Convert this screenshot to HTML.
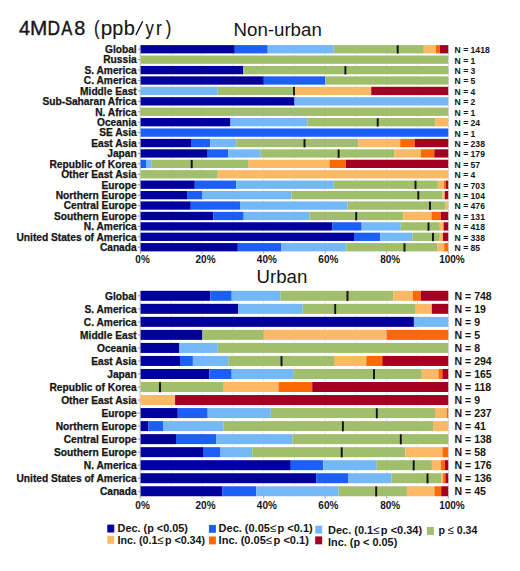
<!DOCTYPE html>
<html><head><meta charset="utf-8">
<style>
html,body{margin:0;padding:0;background:#fff;}
body{width:520px;height:571px;overflow:hidden;position:relative;font-family:"Liberation Sans",sans-serif;}
svg{position:absolute;left:0;top:0;}
text{font-family:"Liberation Sans",sans-serif;fill:#141414;}
.lab{font-weight:bold;stroke:#141414;stroke-width:0.25px;}
.nl{font-weight:bold;}
.xl{font-weight:bold;font-size:10px;}
.lg{font-weight:bold;font-size:11px;}
.le{font-weight:normal;font-size:11.5px;}
.t1{font-size:19px;}
.t2{font-size:18.7px;}
</style></head>
<body>
<svg width="520" height="571" viewBox="0 0 520 571">
<text transform="translate(18.99,34.9) scale(1.018,1)" style="font-size:19.5px;stroke:#141414;stroke-width:0.35px">4</text>
<text transform="translate(30.05,34.9) scale(1.066,1)" style="font-size:19.5px;stroke:#141414;stroke-width:0.35px">M</text>
<text transform="translate(47.42,34.9) scale(0.892,1)" style="font-size:19.5px;stroke:#141414;stroke-width:0.35px">D</text>
<text transform="translate(61.32,34.9) scale(0.850,1)" style="font-size:19.5px;stroke:#141414;stroke-width:0.35px">A</text>
<text transform="translate(74.29,34.9) scale(1.016,1)" style="font-size:19.5px;stroke:#141414;stroke-width:0.35px">8</text>
<text transform="translate(93.92,34.9) scale(0.850,1)" style="font-size:19.5px;stroke:#141414;stroke-width:0.15px">(</text>
<text transform="translate(100.82,34.9) scale(1.061,1)" style="font-size:19.5px;stroke:#141414;stroke-width:0.12px">p</text>
<text transform="translate(112.37,34.9) scale(1.015,1)" style="font-size:19.5px;stroke:#141414;stroke-width:0.12px">p</text>
<text transform="translate(123.86,34.9) scale(1.026,1)" style="font-size:19.5px;stroke:#141414;stroke-width:0.12px">b</text>
<line x1="135.9" y1="35.0" x2="142.7" y2="21.3" stroke="#141414" stroke-width="1.45"/>
<text transform="translate(145.61,34.9) scale(0.850,1)" style="font-size:19.5px;stroke:#141414;stroke-width:0.12px">y</text>
<text transform="translate(155.98,34.9) scale(0.903,1)" style="font-size:19.5px;stroke:#141414;stroke-width:0.15px">r</text>
<text transform="translate(165.75,34.9) scale(0.850,1)" style="font-size:19.5px;stroke:#141414;stroke-width:0.15px">)</text>
<text x="233.5" y="35.9" class="t2">Non-urban</text>
<text x="256.5" y="283.1" class="t2">Urban</text>
<line x1="171.36" y1="45.10" x2="171.36" y2="251.38" stroke="#e4e6ea" stroke-width="0.8"/>
<line x1="202.12" y1="45.10" x2="202.12" y2="251.38" stroke="#e4e6ea" stroke-width="0.8"/>
<line x1="232.88" y1="45.10" x2="232.88" y2="251.38" stroke="#e4e6ea" stroke-width="0.8"/>
<line x1="263.64" y1="45.10" x2="263.64" y2="251.38" stroke="#e4e6ea" stroke-width="0.8"/>
<line x1="294.40" y1="45.10" x2="294.40" y2="251.38" stroke="#e4e6ea" stroke-width="0.8"/>
<line x1="325.16" y1="45.10" x2="325.16" y2="251.38" stroke="#e4e6ea" stroke-width="0.8"/>
<line x1="355.92" y1="45.10" x2="355.92" y2="251.38" stroke="#e4e6ea" stroke-width="0.8"/>
<line x1="386.68" y1="45.10" x2="386.68" y2="251.38" stroke="#e4e6ea" stroke-width="0.8"/>
<line x1="417.44" y1="45.10" x2="417.44" y2="251.38" stroke="#e4e6ea" stroke-width="0.8"/>
<line x1="140.2" y1="45.10" x2="140.2" y2="253.60" stroke="#b4b4b4" stroke-width="0.9"/>
<line x1="448.4" y1="45.10" x2="448.4" y2="253.60" stroke="#cfcfcf" stroke-width="0.8"/>
<rect x="140.60" y="45.10" width="94.20" height="8.30" fill="#00009c"/>
<rect x="234.80" y="45.10" width="32.90" height="8.30" fill="#1b5ff6"/>
<rect x="267.70" y="45.10" width="66.00" height="8.30" fill="#75b8f7"/>
<rect x="333.70" y="45.10" width="90.10" height="8.30" fill="#a1be6c"/>
<rect x="423.80" y="45.10" width="12.10" height="8.30" fill="#fbb966"/>
<rect x="435.90" y="45.10" width="3.90" height="8.30" fill="#fc6904"/>
<rect x="439.80" y="45.10" width="8.40" height="8.30" fill="#a40022"/>
<rect x="396.75" y="45.30" width="1.9" height="8.30" fill="#111"/>
<line x1="137.9" y1="49.25" x2="140.4" y2="49.25" stroke="#8a8a8a" stroke-width="0.9"/>
<text x="136.7" y="53.05" text-anchor="end" class="lab" style="font-size:10.2px">Global</text>
<text x="454.6" y="53.15" class="nl" style="font-size:8.6px">N = 1418</text>
<rect x="140.60" y="55.52" width="307.60" height="8.30" fill="#a1be6c"/>
<line x1="137.9" y1="59.67" x2="140.4" y2="59.67" stroke="#8a8a8a" stroke-width="0.9"/>
<text x="136.7" y="63.47" text-anchor="end" class="lab" style="font-size:10.2px">Russia</text>
<text x="454.6" y="63.57" class="nl" style="font-size:8.6px">N = 1</text>
<rect x="140.60" y="65.94" width="102.70" height="8.30" fill="#00009c"/>
<rect x="243.30" y="65.94" width="204.90" height="8.30" fill="#a1be6c"/>
<rect x="344.45" y="66.14" width="1.9" height="8.30" fill="#111"/>
<line x1="137.9" y1="70.09" x2="140.4" y2="70.09" stroke="#8a8a8a" stroke-width="0.9"/>
<text x="136.7" y="73.89" text-anchor="end" class="lab" style="font-size:10.2px">S. America</text>
<text x="454.6" y="73.99" class="nl" style="font-size:8.6px">N = 3</text>
<rect x="140.60" y="76.36" width="123.20" height="8.30" fill="#00009c"/>
<rect x="263.80" y="76.36" width="61.40" height="8.30" fill="#1b5ff6"/>
<rect x="325.20" y="76.36" width="123.00" height="8.30" fill="#a1be6c"/>
<line x1="137.9" y1="80.51" x2="140.4" y2="80.51" stroke="#8a8a8a" stroke-width="0.9"/>
<text x="136.7" y="84.31" text-anchor="end" class="lab" style="font-size:10.2px">C. America</text>
<text x="454.6" y="84.41" class="nl" style="font-size:8.6px">N = 5</text>
<rect x="140.60" y="86.78" width="77.15" height="8.30" fill="#75b8f7"/>
<rect x="217.75" y="86.78" width="76.75" height="8.30" fill="#a1be6c"/>
<rect x="294.50" y="86.78" width="76.75" height="8.30" fill="#fbb966"/>
<rect x="371.25" y="86.78" width="76.95" height="8.30" fill="#a40022"/>
<rect x="293.05" y="86.98" width="1.9" height="8.30" fill="#111"/>
<line x1="137.9" y1="90.93" x2="140.4" y2="90.93" stroke="#8a8a8a" stroke-width="0.9"/>
<text x="136.7" y="94.73" text-anchor="end" class="lab" style="font-size:10.2px">Middle East</text>
<text x="454.6" y="94.83" class="nl" style="font-size:8.6px">N = 4</text>
<rect x="140.60" y="97.20" width="153.90" height="8.30" fill="#00009c"/>
<rect x="294.50" y="97.20" width="153.70" height="8.30" fill="#75b8f7"/>
<line x1="137.9" y1="101.35" x2="140.4" y2="101.35" stroke="#8a8a8a" stroke-width="0.9"/>
<text x="136.7" y="105.15" text-anchor="end" class="lab" style="font-size:10.2px">Sub-Saharan Africa</text>
<text x="454.6" y="105.25" class="nl" style="font-size:8.6px">N = 2</text>
<rect x="140.60" y="107.62" width="307.60" height="8.30" fill="#a1be6c"/>
<line x1="137.9" y1="111.77" x2="140.4" y2="111.77" stroke="#8a8a8a" stroke-width="0.9"/>
<text x="136.7" y="115.57" text-anchor="end" class="lab" style="font-size:10.2px">N. Africa</text>
<text x="454.6" y="115.67" class="nl" style="font-size:8.6px">N = 1</text>
<rect x="140.60" y="118.04" width="89.90" height="8.30" fill="#00009c"/>
<rect x="230.50" y="118.04" width="76.80" height="8.30" fill="#75b8f7"/>
<rect x="307.30" y="118.04" width="127.90" height="8.30" fill="#a1be6c"/>
<rect x="435.20" y="118.04" width="13.00" height="8.30" fill="#fbb966"/>
<rect x="376.75" y="118.24" width="1.9" height="8.30" fill="#111"/>
<line x1="137.9" y1="122.19" x2="140.4" y2="122.19" stroke="#8a8a8a" stroke-width="0.9"/>
<text x="136.7" y="125.99" text-anchor="end" class="lab" style="font-size:10.2px">Oceania</text>
<text x="454.6" y="126.09" class="nl" style="font-size:8.6px">N = 24</text>
<rect x="140.60" y="128.46" width="307.60" height="8.30" fill="#1b5ff6"/>
<line x1="137.9" y1="132.61" x2="140.4" y2="132.61" stroke="#8a8a8a" stroke-width="0.9"/>
<text x="136.7" y="136.41" text-anchor="end" class="lab" style="font-size:10.2px">SE Asia</text>
<text x="454.6" y="136.51" class="nl" style="font-size:8.6px">N = 1</text>
<rect x="140.60" y="138.88" width="51.10" height="8.30" fill="#00009c"/>
<rect x="191.70" y="138.88" width="18.50" height="8.30" fill="#1b5ff6"/>
<rect x="210.20" y="138.88" width="26.10" height="8.30" fill="#75b8f7"/>
<rect x="236.30" y="138.88" width="122.00" height="8.30" fill="#a1be6c"/>
<rect x="358.30" y="138.88" width="41.90" height="8.30" fill="#fbb966"/>
<rect x="400.20" y="138.88" width="14.40" height="8.30" fill="#fc6904"/>
<rect x="414.60" y="138.88" width="33.60" height="8.30" fill="#a40022"/>
<rect x="303.55" y="139.08" width="1.9" height="8.30" fill="#111"/>
<line x1="137.9" y1="143.03" x2="140.4" y2="143.03" stroke="#8a8a8a" stroke-width="0.9"/>
<text x="136.7" y="146.83" text-anchor="end" class="lab" style="font-size:10.2px">East Asia</text>
<text x="454.6" y="146.93" class="nl" style="font-size:8.6px">N = 238</text>
<rect x="140.60" y="149.30" width="67.10" height="8.30" fill="#00009c"/>
<rect x="207.70" y="149.30" width="20.60" height="8.30" fill="#1b5ff6"/>
<rect x="228.30" y="149.30" width="32.30" height="8.30" fill="#75b8f7"/>
<rect x="260.60" y="149.30" width="134.00" height="8.30" fill="#a1be6c"/>
<rect x="394.60" y="149.30" width="26.10" height="8.30" fill="#fbb966"/>
<rect x="420.70" y="149.30" width="13.60" height="8.30" fill="#fc6904"/>
<rect x="434.30" y="149.30" width="13.90" height="8.30" fill="#a40022"/>
<rect x="337.65" y="149.50" width="1.9" height="8.30" fill="#111"/>
<line x1="137.9" y1="153.45" x2="140.4" y2="153.45" stroke="#8a8a8a" stroke-width="0.9"/>
<text x="136.7" y="157.25" text-anchor="end" class="lab" style="font-size:10.2px">Japan</text>
<text x="454.6" y="157.35" class="nl" style="font-size:8.6px">N = 179</text>
<rect x="140.60" y="159.72" width="5.40" height="8.30" fill="#1b5ff6"/>
<rect x="146.00" y="159.72" width="5.80" height="8.30" fill="#75b8f7"/>
<rect x="151.80" y="159.72" width="96.90" height="8.30" fill="#a1be6c"/>
<rect x="248.70" y="159.72" width="80.80" height="8.30" fill="#fbb966"/>
<rect x="329.50" y="159.72" width="16.20" height="8.30" fill="#fc6904"/>
<rect x="345.70" y="159.72" width="102.50" height="8.30" fill="#a40022"/>
<rect x="190.75" y="159.92" width="1.9" height="8.30" fill="#111"/>
<line x1="137.9" y1="163.87" x2="140.4" y2="163.87" stroke="#8a8a8a" stroke-width="0.9"/>
<text x="136.7" y="167.67" text-anchor="end" class="lab" style="font-size:10.2px">Republic of Korea</text>
<text x="454.6" y="167.77" class="nl" style="font-size:8.6px">N = 57</text>
<rect x="140.60" y="170.14" width="77.15" height="8.30" fill="#a1be6c"/>
<rect x="217.75" y="170.14" width="230.45" height="8.30" fill="#fbb966"/>
<line x1="137.9" y1="174.29" x2="140.4" y2="174.29" stroke="#8a8a8a" stroke-width="0.9"/>
<text x="136.7" y="178.09" text-anchor="end" class="lab" style="font-size:10.2px">Other East Asia</text>
<text x="454.6" y="178.19" class="nl" style="font-size:8.6px">N = 4</text>
<rect x="140.60" y="180.56" width="54.20" height="8.30" fill="#00009c"/>
<rect x="194.80" y="180.56" width="41.50" height="8.30" fill="#1b5ff6"/>
<rect x="236.30" y="180.56" width="97.40" height="8.30" fill="#75b8f7"/>
<rect x="333.70" y="180.56" width="104.20" height="8.30" fill="#a1be6c"/>
<rect x="437.90" y="180.56" width="6.10" height="8.30" fill="#fbb966"/>
<rect x="444.00" y="180.56" width="2.00" height="8.30" fill="#fc6904"/>
<rect x="446.00" y="180.56" width="2.20" height="8.30" fill="#a40022"/>
<rect x="414.55" y="180.76" width="1.9" height="8.30" fill="#111"/>
<line x1="137.9" y1="184.71" x2="140.4" y2="184.71" stroke="#8a8a8a" stroke-width="0.9"/>
<text x="136.7" y="188.51" text-anchor="end" class="lab" style="font-size:10.2px">Europe</text>
<text x="454.6" y="188.61" class="nl" style="font-size:8.6px">N = 703</text>
<rect x="140.60" y="190.98" width="46.50" height="8.30" fill="#00009c"/>
<rect x="187.10" y="190.98" width="15.40" height="8.30" fill="#1b5ff6"/>
<rect x="202.50" y="190.98" width="88.90" height="8.30" fill="#75b8f7"/>
<rect x="291.40" y="190.98" width="150.90" height="8.30" fill="#a1be6c"/>
<rect x="442.30" y="190.98" width="2.50" height="8.30" fill="#fbb966"/>
<rect x="444.80" y="190.98" width="3.40" height="8.30" fill="#a40022"/>
<rect x="417.35" y="191.18" width="1.9" height="8.30" fill="#111"/>
<line x1="137.9" y1="195.13" x2="140.4" y2="195.13" stroke="#8a8a8a" stroke-width="0.9"/>
<text x="136.7" y="198.93" text-anchor="end" class="lab" style="font-size:10.2px">Northern Europe</text>
<text x="454.6" y="199.03" class="nl" style="font-size:8.6px">N = 104</text>
<rect x="140.60" y="201.40" width="50.20" height="8.30" fill="#00009c"/>
<rect x="190.80" y="201.40" width="49.20" height="8.30" fill="#1b5ff6"/>
<rect x="240.00" y="201.40" width="107.50" height="8.30" fill="#75b8f7"/>
<rect x="347.50" y="201.40" width="98.10" height="8.30" fill="#a1be6c"/>
<rect x="445.60" y="201.40" width="2.60" height="8.30" fill="#fbb966"/>
<rect x="429.05" y="201.60" width="1.9" height="8.30" fill="#111"/>
<line x1="137.9" y1="205.55" x2="140.4" y2="205.55" stroke="#8a8a8a" stroke-width="0.9"/>
<text x="136.7" y="209.35" text-anchor="end" class="lab" style="font-size:10.2px">Central Europe</text>
<text x="454.6" y="209.45" class="nl" style="font-size:8.6px">N = 476</text>
<rect x="140.60" y="211.82" width="72.60" height="8.30" fill="#00009c"/>
<rect x="213.20" y="211.82" width="30.50" height="8.30" fill="#1b5ff6"/>
<rect x="243.70" y="211.82" width="65.70" height="8.30" fill="#75b8f7"/>
<rect x="309.40" y="211.82" width="93.80" height="8.30" fill="#a1be6c"/>
<rect x="403.20" y="211.82" width="28.30" height="8.30" fill="#fbb966"/>
<rect x="431.50" y="211.82" width="9.30" height="8.30" fill="#fc6904"/>
<rect x="440.80" y="211.82" width="7.40" height="8.30" fill="#a40022"/>
<rect x="355.25" y="212.02" width="1.9" height="8.30" fill="#111"/>
<line x1="137.9" y1="215.97" x2="140.4" y2="215.97" stroke="#8a8a8a" stroke-width="0.9"/>
<text x="136.7" y="219.77" text-anchor="end" class="lab" style="font-size:10.2px">Southern Europe</text>
<text x="454.6" y="219.87" class="nl" style="font-size:8.6px">N = 131</text>
<rect x="140.60" y="222.24" width="191.90" height="8.30" fill="#00009c"/>
<rect x="332.50" y="222.24" width="29.20" height="8.30" fill="#1b5ff6"/>
<rect x="361.70" y="222.24" width="39.10" height="8.30" fill="#75b8f7"/>
<rect x="400.80" y="222.24" width="39.00" height="8.30" fill="#a1be6c"/>
<rect x="439.80" y="222.24" width="3.80" height="8.30" fill="#fbb966"/>
<rect x="443.60" y="222.24" width="4.60" height="8.30" fill="#a40022"/>
<rect x="427.55" y="222.44" width="1.9" height="8.30" fill="#111"/>
<line x1="137.9" y1="226.39" x2="140.4" y2="226.39" stroke="#8a8a8a" stroke-width="0.9"/>
<text x="136.7" y="230.19" text-anchor="end" class="lab" style="font-size:10.2px">N. America</text>
<text x="454.6" y="230.29" class="nl" style="font-size:8.6px">N = 418</text>
<rect x="140.60" y="232.66" width="213.40" height="8.30" fill="#00009c"/>
<rect x="354.00" y="232.66" width="26.20" height="8.30" fill="#1b5ff6"/>
<rect x="380.20" y="232.66" width="32.30" height="8.30" fill="#75b8f7"/>
<rect x="412.50" y="232.66" width="27.30" height="8.30" fill="#a1be6c"/>
<rect x="439.80" y="232.66" width="3.20" height="8.30" fill="#fbb966"/>
<rect x="443.00" y="232.66" width="5.20" height="8.30" fill="#a40022"/>
<rect x="432.05" y="232.86" width="1.9" height="8.30" fill="#111"/>
<line x1="137.9" y1="236.81" x2="140.4" y2="236.81" stroke="#8a8a8a" stroke-width="0.9"/>
<text x="136.7" y="240.61" text-anchor="end" class="lab" style="font-size:10.2px">United States of America</text>
<text x="454.6" y="240.71" class="nl" style="font-size:8.6px">N = 338</text>
<rect x="140.60" y="243.08" width="97.20" height="8.30" fill="#00009c"/>
<rect x="237.80" y="243.08" width="43.70" height="8.30" fill="#1b5ff6"/>
<rect x="281.50" y="243.08" width="64.80" height="8.30" fill="#75b8f7"/>
<rect x="346.30" y="243.08" width="90.70" height="8.30" fill="#a1be6c"/>
<rect x="437.00" y="243.08" width="7.20" height="8.30" fill="#fbb966"/>
<rect x="444.20" y="243.08" width="4.00" height="8.30" fill="#fc6904"/>
<rect x="403.55" y="243.28" width="1.9" height="8.30" fill="#111"/>
<line x1="137.9" y1="247.23" x2="140.4" y2="247.23" stroke="#8a8a8a" stroke-width="0.9"/>
<text x="136.7" y="251.03" text-anchor="end" class="lab" style="font-size:10.2px">Canada</text>
<text x="454.6" y="251.13" class="nl" style="font-size:8.6px">N = 85</text>
<line x1="140.60" y1="251.40" x2="140.60" y2="253.60" stroke="#9a9a9a" stroke-width="0.9"/>
<text x="135.35" y="263.00" class="xl">0%</text>
<line x1="202.12" y1="251.40" x2="202.12" y2="253.60" stroke="#9a9a9a" stroke-width="0.9"/>
<text x="195.55" y="263.00" class="xl">20%</text>
<line x1="263.64" y1="251.40" x2="263.64" y2="253.60" stroke="#9a9a9a" stroke-width="0.9"/>
<text x="256.85" y="263.00" class="xl">40%</text>
<line x1="325.16" y1="251.40" x2="325.16" y2="253.60" stroke="#9a9a9a" stroke-width="0.9"/>
<text x="318.35" y="263.00" class="xl">60%</text>
<line x1="386.68" y1="251.40" x2="386.68" y2="253.60" stroke="#9a9a9a" stroke-width="0.9"/>
<text x="380.15" y="263.00" class="xl">80%</text>
<line x1="448.20" y1="251.40" x2="448.20" y2="253.60" stroke="#9a9a9a" stroke-width="0.9"/>
<text x="439.15" y="263.00" class="xl">100%</text>
<line x1="171.36" y1="290.80" x2="171.36" y2="496.25" stroke="#e4e6ea" stroke-width="0.8"/>
<line x1="202.12" y1="290.80" x2="202.12" y2="496.25" stroke="#e4e6ea" stroke-width="0.8"/>
<line x1="232.88" y1="290.80" x2="232.88" y2="496.25" stroke="#e4e6ea" stroke-width="0.8"/>
<line x1="263.64" y1="290.80" x2="263.64" y2="496.25" stroke="#e4e6ea" stroke-width="0.8"/>
<line x1="294.40" y1="290.80" x2="294.40" y2="496.25" stroke="#e4e6ea" stroke-width="0.8"/>
<line x1="325.16" y1="290.80" x2="325.16" y2="496.25" stroke="#e4e6ea" stroke-width="0.8"/>
<line x1="355.92" y1="290.80" x2="355.92" y2="496.25" stroke="#e4e6ea" stroke-width="0.8"/>
<line x1="386.68" y1="290.80" x2="386.68" y2="496.25" stroke="#e4e6ea" stroke-width="0.8"/>
<line x1="417.44" y1="290.80" x2="417.44" y2="496.25" stroke="#e4e6ea" stroke-width="0.8"/>
<line x1="140.2" y1="290.80" x2="140.2" y2="498.40" stroke="#b4b4b4" stroke-width="0.9"/>
<line x1="448.4" y1="290.80" x2="448.4" y2="498.40" stroke="#cfcfcf" stroke-width="0.8"/>
<rect x="140.60" y="290.80" width="69.60" height="10.00" fill="#00009c"/>
<rect x="210.20" y="290.80" width="21.50" height="10.00" fill="#1b5ff6"/>
<rect x="231.70" y="290.80" width="48.90" height="10.00" fill="#75b8f7"/>
<rect x="280.60" y="290.80" width="112.50" height="10.00" fill="#a1be6c"/>
<rect x="393.10" y="290.80" width="19.90" height="10.00" fill="#fbb966"/>
<rect x="413.00" y="290.80" width="7.80" height="10.00" fill="#fc6904"/>
<rect x="420.80" y="290.80" width="27.40" height="10.00" fill="#a40022"/>
<rect x="346.55" y="291.00" width="1.9" height="10.00" fill="#111"/>
<line x1="137.9" y1="295.80" x2="140.4" y2="295.80" stroke="#8a8a8a" stroke-width="0.9"/>
<text x="136.7" y="299.50" text-anchor="end" class="lab" style="font-size:10.2px">Global</text>
<text x="454.6" y="299.50" class="nl" style="font-size:10.5px">N = 748</text>
<rect x="140.60" y="303.83" width="97.40" height="10.00" fill="#00009c"/>
<rect x="238.00" y="303.83" width="64.60" height="10.00" fill="#75b8f7"/>
<rect x="302.60" y="303.83" width="113.10" height="10.00" fill="#a1be6c"/>
<rect x="415.70" y="303.83" width="16.10" height="10.00" fill="#fbb966"/>
<rect x="431.80" y="303.83" width="16.40" height="10.00" fill="#a40022"/>
<rect x="334.25" y="304.03" width="1.9" height="10.00" fill="#111"/>
<line x1="137.9" y1="308.83" x2="140.4" y2="308.83" stroke="#8a8a8a" stroke-width="0.9"/>
<text x="136.7" y="312.53" text-anchor="end" class="lab" style="font-size:10.2px">S. America</text>
<text x="454.6" y="312.53" class="nl" style="font-size:10.5px">N = 19</text>
<rect x="140.60" y="316.86" width="273.30" height="10.00" fill="#00009c"/>
<rect x="413.90" y="316.86" width="34.30" height="10.00" fill="#75b8f7"/>
<line x1="137.9" y1="321.86" x2="140.4" y2="321.86" stroke="#8a8a8a" stroke-width="0.9"/>
<text x="136.7" y="325.56" text-anchor="end" class="lab" style="font-size:10.2px">C. America</text>
<text x="454.6" y="325.56" class="nl" style="font-size:10.5px">N = 9</text>
<rect x="140.60" y="329.89" width="61.80" height="10.00" fill="#00009c"/>
<rect x="202.40" y="329.89" width="61.40" height="10.00" fill="#a1be6c"/>
<rect x="263.80" y="329.89" width="122.80" height="10.00" fill="#fbb966"/>
<rect x="386.60" y="329.89" width="61.60" height="10.00" fill="#fc6904"/>
<line x1="137.9" y1="334.89" x2="140.4" y2="334.89" stroke="#8a8a8a" stroke-width="0.9"/>
<text x="136.7" y="338.59" text-anchor="end" class="lab" style="font-size:10.2px">Middle East</text>
<text x="454.6" y="338.59" class="nl" style="font-size:10.5px">N = 5</text>
<rect x="140.60" y="342.92" width="38.80" height="10.00" fill="#00009c"/>
<rect x="179.40" y="342.92" width="38.35" height="10.00" fill="#75b8f7"/>
<rect x="217.75" y="342.92" width="230.45" height="10.00" fill="#a1be6c"/>
<line x1="137.9" y1="347.92" x2="140.4" y2="347.92" stroke="#8a8a8a" stroke-width="0.9"/>
<text x="136.7" y="351.62" text-anchor="end" class="lab" style="font-size:10.2px">Oceania</text>
<text x="454.6" y="351.62" class="nl" style="font-size:10.5px">N = 8</text>
<rect x="140.60" y="355.95" width="39.40" height="10.00" fill="#00009c"/>
<rect x="180.00" y="355.95" width="12.90" height="10.00" fill="#1b5ff6"/>
<rect x="192.90" y="355.95" width="35.40" height="10.00" fill="#75b8f7"/>
<rect x="228.30" y="355.95" width="105.70" height="10.00" fill="#a1be6c"/>
<rect x="334.00" y="355.95" width="32.30" height="10.00" fill="#fbb966"/>
<rect x="366.30" y="355.95" width="16.00" height="10.00" fill="#fc6904"/>
<rect x="382.30" y="355.95" width="65.90" height="10.00" fill="#a40022"/>
<rect x="280.55" y="356.15" width="1.9" height="10.00" fill="#111"/>
<line x1="137.9" y1="360.95" x2="140.4" y2="360.95" stroke="#8a8a8a" stroke-width="0.9"/>
<text x="136.7" y="364.65" text-anchor="end" class="lab" style="font-size:10.2px">East Asia</text>
<text x="454.6" y="364.65" class="nl" style="font-size:10.5px">N = 294</text>
<rect x="140.60" y="368.98" width="68.60" height="10.00" fill="#00009c"/>
<rect x="209.20" y="368.98" width="22.50" height="10.00" fill="#1b5ff6"/>
<rect x="231.70" y="368.98" width="61.40" height="10.00" fill="#75b8f7"/>
<rect x="293.10" y="368.98" width="128.70" height="10.00" fill="#a1be6c"/>
<rect x="421.80" y="368.98" width="16.70" height="10.00" fill="#fbb966"/>
<rect x="438.50" y="368.98" width="3.90" height="10.00" fill="#fc6904"/>
<rect x="442.40" y="368.98" width="5.80" height="10.00" fill="#a40022"/>
<rect x="373.05" y="369.18" width="1.9" height="10.00" fill="#111"/>
<line x1="137.9" y1="373.98" x2="140.4" y2="373.98" stroke="#8a8a8a" stroke-width="0.9"/>
<text x="136.7" y="377.68" text-anchor="end" class="lab" style="font-size:10.2px">Japan</text>
<text x="454.6" y="377.68" class="nl" style="font-size:10.5px">N = 165</text>
<rect x="140.60" y="382.01" width="83.10" height="10.00" fill="#a1be6c"/>
<rect x="223.70" y="382.01" width="54.80" height="10.00" fill="#fbb966"/>
<rect x="278.50" y="382.01" width="33.70" height="10.00" fill="#fc6904"/>
<rect x="312.20" y="382.01" width="136.00" height="10.00" fill="#a40022"/>
<rect x="159.05" y="382.21" width="1.9" height="10.00" fill="#111"/>
<line x1="137.9" y1="387.01" x2="140.4" y2="387.01" stroke="#8a8a8a" stroke-width="0.9"/>
<text x="136.7" y="390.71" text-anchor="end" class="lab" style="font-size:10.2px">Republic of Korea</text>
<text x="454.6" y="390.71" class="nl" style="font-size:10.5px">N = 118</text>
<rect x="140.60" y="395.04" width="34.50" height="10.00" fill="#fbb966"/>
<rect x="175.10" y="395.04" width="273.10" height="10.00" fill="#a40022"/>
<line x1="137.9" y1="400.04" x2="140.4" y2="400.04" stroke="#8a8a8a" stroke-width="0.9"/>
<text x="136.7" y="403.74" text-anchor="end" class="lab" style="font-size:10.2px">Other East Asia</text>
<text x="454.6" y="403.74" class="nl" style="font-size:10.5px">N = 9</text>
<rect x="140.60" y="408.07" width="37.20" height="10.00" fill="#00009c"/>
<rect x="177.80" y="408.07" width="29.90" height="10.00" fill="#1b5ff6"/>
<rect x="207.70" y="408.07" width="63.10" height="10.00" fill="#75b8f7"/>
<rect x="270.80" y="408.07" width="164.20" height="10.00" fill="#a1be6c"/>
<rect x="435.00" y="408.07" width="11.60" height="10.00" fill="#fbb966"/>
<rect x="446.60" y="408.07" width="1.60" height="10.00" fill="#fc6904"/>
<rect x="375.85" y="408.27" width="1.9" height="10.00" fill="#111"/>
<line x1="137.9" y1="413.07" x2="140.4" y2="413.07" stroke="#8a8a8a" stroke-width="0.9"/>
<text x="136.7" y="416.77" text-anchor="end" class="lab" style="font-size:10.2px">Europe</text>
<text x="454.6" y="416.77" class="nl" style="font-size:10.5px">N = 237</text>
<rect x="140.60" y="421.10" width="7.90" height="10.00" fill="#00009c"/>
<rect x="148.50" y="421.10" width="15.00" height="10.00" fill="#1b5ff6"/>
<rect x="163.50" y="421.10" width="59.90" height="10.00" fill="#75b8f7"/>
<rect x="223.40" y="421.10" width="209.60" height="10.00" fill="#a1be6c"/>
<rect x="433.00" y="421.10" width="15.20" height="10.00" fill="#fbb966"/>
<rect x="341.95" y="421.30" width="1.9" height="10.00" fill="#111"/>
<line x1="137.9" y1="426.10" x2="140.4" y2="426.10" stroke="#8a8a8a" stroke-width="0.9"/>
<text x="136.7" y="429.80" text-anchor="end" class="lab" style="font-size:10.2px">Northern Europe</text>
<text x="454.6" y="429.80" class="nl" style="font-size:10.5px">N = 41</text>
<rect x="140.60" y="434.13" width="35.40" height="10.00" fill="#00009c"/>
<rect x="176.00" y="434.13" width="40.00" height="10.00" fill="#1b5ff6"/>
<rect x="216.00" y="434.13" width="76.30" height="10.00" fill="#75b8f7"/>
<rect x="292.30" y="434.13" width="155.90" height="10.00" fill="#a1be6c"/>
<rect x="399.85" y="434.33" width="1.9" height="10.00" fill="#111"/>
<line x1="137.9" y1="439.13" x2="140.4" y2="439.13" stroke="#8a8a8a" stroke-width="0.9"/>
<text x="136.7" y="442.83" text-anchor="end" class="lab" style="font-size:10.2px">Central Europe</text>
<text x="454.6" y="442.83" class="nl" style="font-size:10.5px">N = 138</text>
<rect x="140.60" y="447.16" width="63.10" height="10.00" fill="#00009c"/>
<rect x="203.70" y="447.16" width="16.30" height="10.00" fill="#1b5ff6"/>
<rect x="220.00" y="447.16" width="32.30" height="10.00" fill="#75b8f7"/>
<rect x="252.30" y="447.16" width="153.10" height="10.00" fill="#a1be6c"/>
<rect x="405.40" y="447.16" width="37.10" height="10.00" fill="#fbb966"/>
<rect x="442.50" y="447.16" width="5.70" height="10.00" fill="#fc6904"/>
<rect x="340.75" y="447.36" width="1.9" height="10.00" fill="#111"/>
<line x1="137.9" y1="452.16" x2="140.4" y2="452.16" stroke="#8a8a8a" stroke-width="0.9"/>
<text x="136.7" y="455.86" text-anchor="end" class="lab" style="font-size:10.2px">Southern Europe</text>
<text x="454.6" y="455.86" class="nl" style="font-size:10.5px">N = 58</text>
<rect x="140.60" y="460.19" width="150.20" height="10.00" fill="#00009c"/>
<rect x="290.80" y="460.19" width="32.40" height="10.00" fill="#1b5ff6"/>
<rect x="323.20" y="460.19" width="53.60" height="10.00" fill="#75b8f7"/>
<rect x="376.80" y="460.19" width="55.10" height="10.00" fill="#a1be6c"/>
<rect x="431.90" y="460.19" width="9.10" height="10.00" fill="#fbb966"/>
<rect x="441.00" y="460.19" width="3.80" height="10.00" fill="#fc6904"/>
<rect x="444.80" y="460.19" width="3.40" height="10.00" fill="#a40022"/>
<rect x="412.75" y="460.39" width="1.9" height="10.00" fill="#111"/>
<line x1="137.9" y1="465.19" x2="140.4" y2="465.19" stroke="#8a8a8a" stroke-width="0.9"/>
<text x="136.7" y="468.89" text-anchor="end" class="lab" style="font-size:10.2px">N. America</text>
<text x="454.6" y="468.89" class="nl" style="font-size:10.5px">N = 176</text>
<rect x="140.60" y="473.22" width="175.60" height="10.00" fill="#00009c"/>
<rect x="316.20" y="473.22" width="32.30" height="10.00" fill="#1b5ff6"/>
<rect x="348.50" y="473.22" width="43.00" height="10.00" fill="#75b8f7"/>
<rect x="391.50" y="473.22" width="50.00" height="10.00" fill="#a1be6c"/>
<rect x="441.50" y="473.22" width="1.60" height="10.00" fill="#fbb966"/>
<rect x="443.10" y="473.22" width="2.30" height="10.00" fill="#fc6904"/>
<rect x="445.40" y="473.22" width="2.80" height="10.00" fill="#a40022"/>
<rect x="426.55" y="473.42" width="1.9" height="10.00" fill="#111"/>
<line x1="137.9" y1="478.22" x2="140.4" y2="478.22" stroke="#8a8a8a" stroke-width="0.9"/>
<text x="136.7" y="481.92" text-anchor="end" class="lab" style="font-size:10.2px">United States of America</text>
<text x="454.6" y="481.92" class="nl" style="font-size:10.5px">N = 136</text>
<rect x="140.60" y="486.25" width="81.90" height="10.00" fill="#00009c"/>
<rect x="222.50" y="486.25" width="33.80" height="10.00" fill="#1b5ff6"/>
<rect x="256.30" y="486.25" width="82.30" height="10.00" fill="#75b8f7"/>
<rect x="338.60" y="486.25" width="68.30" height="10.00" fill="#a1be6c"/>
<rect x="406.90" y="486.25" width="27.50" height="10.00" fill="#fbb966"/>
<rect x="434.40" y="486.25" width="6.80" height="10.00" fill="#fc6904"/>
<rect x="441.20" y="486.25" width="7.00" height="10.00" fill="#a40022"/>
<rect x="375.25" y="486.45" width="1.9" height="10.00" fill="#111"/>
<line x1="137.9" y1="491.25" x2="140.4" y2="491.25" stroke="#8a8a8a" stroke-width="0.9"/>
<text x="136.7" y="494.95" text-anchor="end" class="lab" style="font-size:10.2px">Canada</text>
<text x="454.6" y="494.95" class="nl" style="font-size:10.5px">N = 45</text>
<line x1="140.60" y1="496.20" x2="140.60" y2="498.40" stroke="#9a9a9a" stroke-width="0.9"/>
<text x="135.35" y="508.50" class="xl">0%</text>
<line x1="202.12" y1="496.20" x2="202.12" y2="498.40" stroke="#9a9a9a" stroke-width="0.9"/>
<text x="195.55" y="508.50" class="xl">20%</text>
<line x1="263.64" y1="496.20" x2="263.64" y2="498.40" stroke="#9a9a9a" stroke-width="0.9"/>
<text x="256.85" y="508.50" class="xl">40%</text>
<line x1="325.16" y1="496.20" x2="325.16" y2="498.40" stroke="#9a9a9a" stroke-width="0.9"/>
<text x="318.35" y="508.50" class="xl">60%</text>
<line x1="386.68" y1="496.20" x2="386.68" y2="498.40" stroke="#9a9a9a" stroke-width="0.9"/>
<text x="380.15" y="508.50" class="xl">80%</text>
<line x1="448.20" y1="496.20" x2="448.20" y2="498.40" stroke="#9a9a9a" stroke-width="0.9"/>
<text x="439.15" y="508.50" class="xl">100%</text>
<rect x="107.3" y="524.6" width="7.0" height="7.9" fill="#00009c"/>
<text x="117.6" y="531.8" class="lg" textLength="70.3" lengthAdjust="spacingAndGlyphs">Dec. (p &lt;0.05)</text>
<rect x="208.9" y="524.9" width="7.0" height="7.9" fill="#1b5ff6"/>
<text x="218.6" y="532.0" class="lg" textLength="94.1" lengthAdjust="spacingAndGlyphs">Dec. (0.05<tspan class="le">≤</tspan><tspan dx="1.4">p</tspan> &lt;0.1)</text>
<rect x="315.2" y="525.7" width="7.0" height="7.9" fill="#75b8f7"/>
<text x="328.0" y="534.0" class="lg" textLength="94.1" lengthAdjust="spacingAndGlyphs">Dec. (0.1<tspan class="le">≤</tspan><tspan dx="1.4">p</tspan> &lt;0.34)</text>
<rect x="426.9" y="527.0" width="7.0" height="7.9" fill="#a1be6c"/>
<text x="438.4" y="534.2" class="lg" textLength="39.0" lengthAdjust="spacingAndGlyphs">p <tspan class="le">≤</tspan> 0.34</text>
<rect x="107.3" y="535.9" width="7.0" height="7.9" fill="#fbb966"/>
<text x="117.6" y="543.6" class="lg" textLength="87.5" lengthAdjust="spacingAndGlyphs">Inc. (0.1<tspan class="le">≤</tspan><tspan dx="1.4">p</tspan> &lt;0.34)</text>
<rect x="208.9" y="536.5" width="7.0" height="7.9" fill="#fc6904"/>
<text x="218.6" y="544.3" class="lg" textLength="90.3" lengthAdjust="spacingAndGlyphs">Inc. (0.05<tspan class="le">≤</tspan><tspan dx="1.4">p</tspan> &lt;0.1)</text>
<rect x="315.2" y="536.4" width="7.0" height="7.9" fill="#a40022"/>
<text x="328.0" y="545.6" class="lg" textLength="69.3" lengthAdjust="spacingAndGlyphs">Inc. (p &lt; 0.05)</text>
</svg>
</body></html>
